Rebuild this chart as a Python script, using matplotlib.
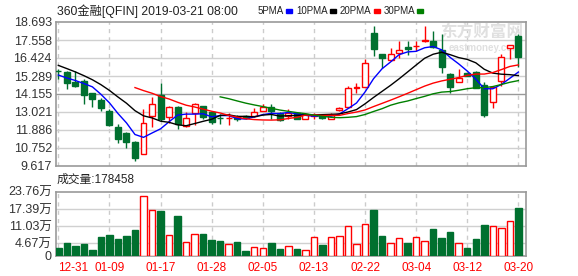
import numpy as np
import pandas as pd
import matplotlib
matplotlib.use('Agg')
import matplotlib.pyplot as plt
from matplotlib.patches import Rectangle

plt.rcParams['font.family'] = ['Liberation Sans', 'Noto Sans CJK SC']

# x labels (every 6th trading day)
dates = ['12-31', '01-09', '01-17', '01-28', '02-05', '02-13', '02-22', '03-04', '03-12', '03-20']
date_idx = [0, 6, 12, 18, 24, 30, 36, 42, 48, 54]

# closes before 12-31 (only used for the moving averages)
pre_close = [16.14, 16.90, 16.75, 16.45, 16.40, 16.35, 15.80, 15.45, 15.05, 14.86]

open_ = [15.62, 15.54, 14.91, 14.98, 14.20, 13.76, 13.07, 12.08, 11.72, 11.13,
         10.40, 12.77, 14.07, 12.73, 13.36, 12.14, 12.98, 13.37, 12.99, 12.67,
         12.62, 12.71, 12.77, 12.78, 13.10, 13.36, 12.94, 12.77, 12.94, 12.61,
         12.78, 12.83, 12.61, 13.15, 13.33, 14.55, 14.61, 17.98, 16.68, 16.28,
         16.75, 17.12, 17.15, 17.49, 17.48, 16.94, 15.40, 14.94, 15.45, 15.54,
         14.70, 13.66, 14.98, 17.08, 17.79]
high = [15.76, 15.59, 15.61, 15.08, 14.24, 13.93, 13.24, 12.25, 11.76, 11.17,
        13.19, 13.99, 14.83, 13.42, 13.40, 13.00, 13.61, 13.38, 13.08, 12.88,
        12.93, 12.81, 12.86, 13.30, 13.53, 13.55, 13.00, 13.19, 13.02, 12.98,
        12.94, 12.88, 12.94, 13.36, 14.66, 14.83, 16.36, 18.44, 16.70, 17.06,
        17.51, 17.48, 17.50, 18.45, 18.14, 17.95, 15.46, 15.76, 15.49, 15.59,
        14.89, 14.67, 16.69, 17.27, 17.94]
low = [15.13, 14.45, 14.62, 13.51, 13.34, 13.08, 12.14, 11.09, 10.78, 9.93,
       10.35, 12.10, 12.45, 12.30, 11.93, 12.10, 12.23, 12.56, 12.29, 12.25,
       12.23, 12.44, 12.60, 12.73, 13.08, 12.61, 12.45, 12.61, 12.56, 12.56,
       12.56, 12.61, 12.56, 13.08, 13.30, 14.24, 14.58, 16.53, 15.81, 16.25,
       16.41, 16.63, 16.87, 17.41, 17.07, 15.50, 14.24, 14.92, 15.30, 14.52,
       12.73, 13.30, 14.66, 16.37, 15.84]
close = [15.59, 14.87, 14.66, 14.09, 13.82, 13.25, 12.18, 11.30, 11.13, 10.15,
         12.35, 13.55, 12.61, 13.36, 12.25, 12.67, 13.55, 12.72, 12.40, 12.64,
         12.66, 12.59, 12.62, 13.05, 13.35, 13.08, 12.50, 12.98, 12.61, 12.88,
         12.81, 12.67, 12.81, 13.30, 14.56, 14.60, 16.13, 17.00, 16.44, 16.70,
         16.91, 16.99, 17.18, 17.57, 17.10, 15.84, 14.60, 15.15, 15.32, 14.56,
         12.81, 14.58, 16.51, 17.27, 16.51]
# volume in 万 shares
volume = [2.96, 4.91, 3.70, 4.43, 2.22, 7.02, 7.76, 6.28, 7.39, 9.61,
          22.17, 17.0, 16.6, 7.76, 14.9, 5.17, 8.13, 8.13, 5.91, 5.54,
          4.43, 5.28, 1.96, 3.21, 2.96, 4.91, 2.59, 3.70, 2.59, 2.11,
          6.91, 4.06, 6.91, 7.28, 10.97, 4.32, 11.82, 17.0, 7.39, 4.80,
          6.54, 4.80, 6.91, 5.43, 9.98, 6.65, 8.87, 4.80, 2.96, 6.17,
          11.57, 10.97, 10.24, 12.82, 17.85]

price_ticks = [9.617, 10.752, 11.886, 13.021, 14.155, 15.289, 16.424, 17.558, 18.693]
vol_ticks = [0, 4.67, 11.03, 17.39, 23.76]
vol_labels = ['0', '4.67万', '11.03万', '17.39万', '23.76万']

ma_windows = [5, 10, 20, 30]
ma_colors = ['#0000ff', '#000000', '#ff0000', '#008000']
ma_names = ['5PMA', '10PMA', '20PMA', '30PMA']

RED = '#ff0000'
GREEN = '#00702f'
n = len(close)
x = np.arange(n)

fig = plt.figure(figsize=(5.78, 2.76), dpi=100)
W, H = 578, 276
ax = fig.add_axes([56 / W, 1 - 166 / H, 469.7 / W, 144 / H])
av = fig.add_axes([56 / W, 1 - 256 / H, 469.7 / W, 64.3 / H])

for a in (ax, av):
    a.set_xlim(-0.27, 54.86)
    for s in a.spines.values():
        s.set_color('#999999')
        s.set_linewidth(1.2)
    for d in date_idx:
        a.axvline(d, color='#cccccc', lw=1, ls=(0, (3, 3)), zorder=1)
    a.tick_params(length=0, labelsize=9, labelcolor='#333333', pad=3)

# price panel
ax.set_ylim(price_ticks[0], price_ticks[-1])
ax.set_yticks(price_ticks)
ax.set_yticklabels(['%.3f' % t for t in price_ticks])
ax.set_xticks([])
for t in price_ticks[1:-1]:
    ax.axhline(t, color='#999999' if t == 14.155 else '#d0d0d0', lw=1, zorder=1)

w = 0.7
for i in range(n):
    o, c, h, l = open_[i], close[i], high[i], low[i]
    up = c >= o
    col = RED if up else GREEN
    ax.vlines(i, l, h, color=col, lw=1, zorder=3)
    ax.add_patch(Rectangle((i - w / 2, min(o, c)), w, abs(c - o),
                           facecolor='white' if up else GREEN, edgecolor=col,
                           lw=1, zorder=4))

s = pd.Series(pre_close + close)
for win, col in zip(ma_windows, ma_colors):
    ma = s.rolling(win).mean().values[len(pre_close):]
    ax.plot(x, ma, color=col, lw=1, zorder=5)

# watermark
ax.text(0.995, 0.925, '东方财富网', transform=ax.transAxes, ha='right', va='center',
        fontsize=12, fontweight='bold', color='#e0e0e0', zorder=2)
ax.text(0.99, 0.82, 'eastmoney.com', transform=ax.transAxes, ha='right', va='center',
        fontsize=7, fontweight='bold', color='#e0e0e0', zorder=2)

# volume panel
av.set_ylim(0, vol_ticks[-1])
av.set_yticks(vol_ticks)
av.set_yticklabels(vol_labels)
for t in vol_ticks[1:-1]:
    av.axhline(t, color='#d0d0d0', lw=1, zorder=1)
for i in range(n):
    up = close[i] >= open_[i]
    col = RED if up else GREEN
    av.add_patch(Rectangle((i - 0.38, 0), 0.76, volume[i],
                           facecolor='white' if up else GREEN, edgecolor=col,
                           lw=1, zorder=4))
av.set_xticks(date_idx)
av.set_xticklabels(dates)
av.tick_params(axis='x', labelcolor=RED, labelsize=8.5, pad=4)
labs = av.get_xticklabels()
labs[0].set_ha('left')

# header texts
fig.text(57 / W, 1 - 11.5 / H, '360金融[QFIN] 2019-03-21 08:00', va='center',
         fontsize=8.8, color='#222222')
fig.canvas.draw()
rend = fig.canvas.get_renderer()
px = 258
for name, col in zip(ma_names, ma_colors):
    t = fig.text(px / W, 1 - 11.5 / H, name, va='center', fontsize=7, color='#222222')
    ext = t.get_window_extent(renderer=rend)
    bx = ext.x1 + 2
    fig.patches.append(Rectangle((bx / W, 1 - 12.5 / H), 6 / W, 3 / H,
                                 transform=fig.transFigure, color=col))
    px = bx + 6 + 4
fig.text(57 / W, 1 - 180 / H, '成交量:178458', va='center', fontsize=8.5,
         color='#222222')

fig.savefig('out.png', dpi=100)
